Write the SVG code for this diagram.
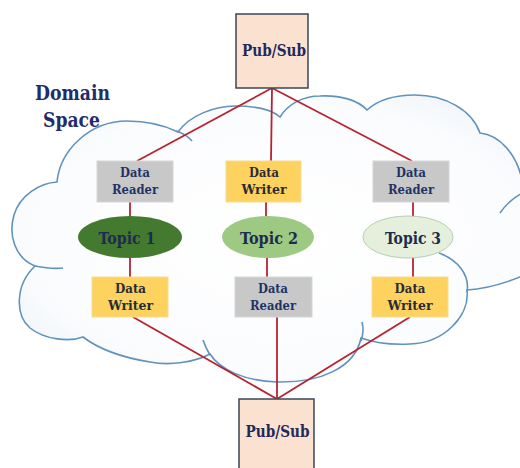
<svg xmlns="http://www.w3.org/2000/svg" width="520" height="468" viewBox="0 0 520 468">
  <defs>
    <radialGradient id="cloudFill" cx="0.5" cy="0.5" r="0.62">
      <stop offset="0" stop-color="#ffffff"/>
      <stop offset="0.75" stop-color="#fbfcfe"/>
      <stop offset="1" stop-color="#eef4f9"/>
    </radialGradient>
    <style>
      .cloud { fill: url(#cloudFill); stroke: #5f93bd; stroke-width: 1.6; }
      .curl { fill: none; stroke: #5f93bd; stroke-width: 1.6; }
      .conn { stroke: #b8232f; stroke-width: 1.8; fill: none; }
      .ps { fill: #fbe2d0; stroke: #3b4658; stroke-width: 1.5; }
      .reader { fill: #c8c8c8; stroke: #d6d6d6; stroke-width: 1; }
      .writer { fill: #fdd25e; stroke: #f6dc94; stroke-width: 1; }
      text { font-family: "DejaVu Serif Condensed", "DejaVu Serif", "Liberation Serif", serif; font-weight: bold; text-anchor: middle; }
      .pst { font-size: 17px; fill: #1f2a5c; }
      .rt { font-size: 13.5px; fill: #1f3366; }
      .wt { font-size: 13.5px; fill: #2a2a36; }
      .tt { font-size: 17.5px; fill: #1b2c4e; }
      .dom { font-size: 20px; fill: #1f2d6b; }
    </style>
  </defs>
  <rect width="520" height="468" fill="#ffffff"/>

  <g id="cloud">
    <path class="cloud" d="M57,182 C60,150 90,121 127,121 C150,121 168,127 178,132
      C190,115 215,106 235,106 C255,106 272,110 280,117
      C288,104 303,96 320,96 C340,95 358,100 367,110
      C378,100 395,95 415,95 C445,95 472,110 480,133
      C500,135 517,155 522,180 C526,192 530,200 535,205
      C560,230 545,270 520,277 C505,283 485,289 467,290
      C470,315 445,343 410,344 C390,345 372,342 361,338
      C355,368 320,383 277,382 C245,381 220,370 210,354
      C195,362 170,366 150,362 C125,358 100,350 83,337
      C70,342 45,340 30,328 C15,315 15,285 35,266
      C15,258 8,235 14,215 C20,195 40,183 57,182 Z"/>
    <path class="curl" d="M176,131 Q186,134 192,141"/>
    <path class="curl" d="M500,213 C507,203 515,196 525,192"/>
    <path class="curl" d="M439,253 C458,260 470,275 467,292"/>
    <path class="curl" d="M362,322 C364,329 363,335 361,341"/>
    <path class="curl" d="M203,340 C205,346 207,350 210,355"/>
    <path class="curl" d="M35,266 C45,268 55,269 63,268"/>
  </g>

  <g id="domain-label">
    <text class="dom" x="72.5" y="100" textLength="75" lengthAdjust="spacingAndGlyphs">Domain</text>
    <text class="dom" x="71.5" y="127" textLength="57" lengthAdjust="spacingAndGlyphs">Space</text>
  </g>

  <g id="connectors">
    <line class="conn" x1="272" y1="88" x2="137" y2="161"/>
    <line class="conn" x1="272" y1="88" x2="271" y2="161"/>
    <line class="conn" x1="272" y1="88" x2="412" y2="161"/>
    <line class="conn" x1="130" y1="202" x2="130" y2="216"/>
    <line class="conn" x1="130" y1="258" x2="130" y2="277"/>
    <line class="conn" x1="266" y1="202" x2="266" y2="216"/>
    <line class="conn" x1="267" y1="258" x2="267" y2="277"/>
    <line class="conn" x1="413" y1="202" x2="413" y2="217"/>
    <line class="conn" x1="413" y1="257" x2="413" y2="277"/>
    <line class="conn" x1="133" y1="317" x2="277" y2="399"/>
    <line class="conn" x1="277" y1="317" x2="277" y2="399"/>
    <line class="conn" x1="410" y1="317" x2="277" y2="399"/>
  </g>

  <g id="pubsub-top">
    <rect class="ps" x="236" y="14" width="72" height="74"/>
    <text class="pst" x="274" y="56" textLength="64" lengthAdjust="spacingAndGlyphs">Pub/Sub</text>
  </g>
  <g id="pubsub-bottom">
    <rect class="ps" x="239" y="399" width="75" height="76"/>
    <text class="pst" x="277.5" y="437" textLength="64" lengthAdjust="spacingAndGlyphs">Pub/Sub</text>
  </g>

  <g id="reader1">
    <rect class="reader" x="97" y="161" width="76" height="41"/>
    <text class="rt" x="135" y="177" textLength="30" lengthAdjust="spacingAndGlyphs">Data</text>
    <text class="rt" x="135" y="194" textLength="46" lengthAdjust="spacingAndGlyphs">Reader</text>
  </g>
  <g id="writer2">
    <rect class="writer" x="226" y="161" width="75" height="41"/>
    <text class="wt" x="264" y="177" textLength="30" lengthAdjust="spacingAndGlyphs">Data</text>
    <text class="wt" x="264" y="194" textLength="45" lengthAdjust="spacingAndGlyphs">Writer</text>
  </g>
  <g id="reader3">
    <rect class="reader" x="373" y="161" width="76" height="41"/>
    <text class="rt" x="411" y="177" textLength="30" lengthAdjust="spacingAndGlyphs">Data</text>
    <text class="rt" x="411" y="194" textLength="46" lengthAdjust="spacingAndGlyphs">Reader</text>
  </g>

  <g id="topic1">
    <ellipse cx="130" cy="237" rx="52" ry="21" fill="#447a2f"/>
    <text class="tt" x="127" y="243.5" textLength="57" lengthAdjust="spacingAndGlyphs">Topic 1</text>
  </g>
  <g id="topic2">
    <ellipse cx="268" cy="237" rx="46" ry="21" fill="#9dc982"/>
    <text class="tt" x="269" y="243.5" textLength="58" lengthAdjust="spacingAndGlyphs">Topic 2</text>
  </g>
  <g id="topic3">
    <ellipse cx="408" cy="237" rx="45" ry="21" fill="#e4f0dc" stroke="#b9cdb0" stroke-width="1"/>
    <text class="tt" x="413" y="243.5" textLength="56" lengthAdjust="spacingAndGlyphs">Topic 3</text>
  </g>

  <g id="writer1">
    <rect class="writer" x="92" y="277" width="76" height="40"/>
    <text class="wt" x="130.5" y="293" textLength="31" lengthAdjust="spacingAndGlyphs">Data</text>
    <text class="wt" x="130.5" y="310" textLength="45" lengthAdjust="spacingAndGlyphs">Writer</text>
  </g>
  <g id="reader2">
    <rect class="reader" x="235" y="277" width="77" height="40"/>
    <text class="rt" x="273" y="293" textLength="30" lengthAdjust="spacingAndGlyphs">Data</text>
    <text class="rt" x="273" y="310" textLength="46" lengthAdjust="spacingAndGlyphs">Reader</text>
  </g>
  <g id="writer3">
    <rect class="writer" x="372" y="277" width="76" height="40"/>
    <text class="wt" x="410" y="293" textLength="31" lengthAdjust="spacingAndGlyphs">Data</text>
    <text class="wt" x="410" y="310" textLength="45" lengthAdjust="spacingAndGlyphs">Writer</text>
  </g>
</svg>
